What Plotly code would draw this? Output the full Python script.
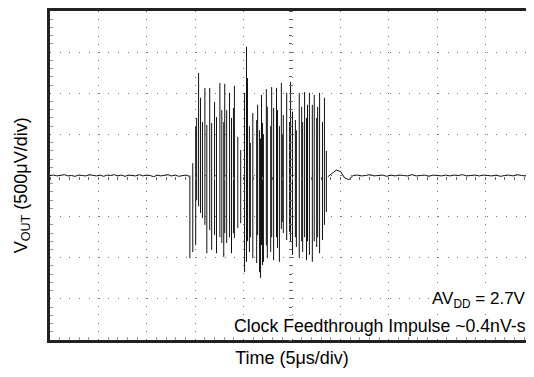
import numpy as np
import plotly.graph_objects as go

# -----------------------------------------------------------
# Scope trace (units: divisions)
# -----------------------------------------------------------
# quiet baseline before the burst
pre_v = [0.00, 0.01, -0.01, 0.01, 0.02, -0.01, 0.00, -0.02, 0.01, 0.00,
         -0.01, 0.02, 0.00, -0.01, 0.01, -0.02, 0.01, 0.00, 0.02, -0.01,
         0.01, -0.02, 0.01, 0.00, -0.01, 0.02, -0.01, 0.01, 0.00, -0.03,
         0.01, -0.01, 0.00, 0.02, -0.01, 0.01, -0.02, 0.00, 0.01, -0.02]
pre_t = np.linspace(0.0, 2.88, len(pre_v))

# ringing burst: each sweep shows up as a vertical stroke hi -> lo
spike_t = [2.89, 2.95, 3.01, 3.03, 3.07, 3.11, 3.15, 3.20, 3.24, 3.30,
           3.34, 3.40, 3.44, 3.51, 3.55, 3.59, 3.61, 3.65, 3.71, 3.75,
           3.79, 3.81, 3.88, 3.94, 4.02, 4.06, 4.08, 4.12, 4.14, 4.19,
           4.27, 4.29, 4.33, 4.35, 4.37, 4.39, 4.41, 4.47, 4.49, 4.56,
           4.58, 4.62, 4.68, 4.70, 4.74, 4.78, 4.80, 4.82, 4.89, 4.95,
           4.97, 5.01, 5.07, 5.09, 5.15, 5.20, 5.22, 5.26, 5.30, 5.32,
           5.36, 5.42, 5.46, 5.51, 5.53, 5.57, 5.63, 5.67, 5.71]
spike_hi = [0.00, 0.30, 1.18, 1.40, 2.49, 1.89, 1.30, 2.13, 1.23, 2.13,
            1.28, 1.79, 1.42, 2.25, 1.59, 1.30, 2.23, 1.59, 2.01, 1.40,
            1.64, 2.18, 0.94, 0.62, 2.01, 3.13, 2.37, 1.20, 0.79, 1.52,
            1.35, 1.72, 1.10, 0.90, 1.96, 1.28, 1.00, 2.10, 1.67, 1.20,
            2.15, 1.64, 2.13, 1.59, 1.20, 2.25, 1.00, 1.47, 2.01, 1.30,
            2.27, 1.55, 1.35, 1.10, 2.01, 1.67, 1.30, 2.03, 1.40, 1.72,
            2.01, 1.72, 1.96, 1.40, 1.67, 2.01, 1.30, 1.89, 0.60]
spike_lo = [-2.01, -1.86, -1.69, -0.60, -0.75, -0.91, -1.03, -1.20, -1.89, -1.33,
            -1.81, -1.45, -1.89, -1.50, -1.64, -1.98, -1.40, -1.64, -1.50, -1.89,
            -1.40, -1.52, -1.28, -1.16, -2.35, -2.10, -1.60, -1.86, -1.50, -2.01,
            -2.13, -1.45, -2.35, -2.49, -1.69, -2.18, -2.10, -1.70, -2.01, -1.86,
            -1.50, -2.06, -1.50, -1.76, -2.10, -1.30, -1.13, -1.40, -1.57, -1.37,
            -1.60, -1.93, -1.50, -1.74, -2.01, -1.60, -1.86, -1.50, -2.06, -1.60,
            -1.93, -2.10, -1.60, -1.74, -1.50, -1.89, -1.57, -1.20, -0.89]

# settling after the burst
post_v = [-0.03, 0.06, 0.13, 0.10, -0.06, -0.10, 0.00, 0.01, -0.01, 0.00,
          0.02, -0.01, 0.00, 0.01, -0.02, 0.01, -0.01, 0.01, 0.00, -0.01,
          0.02, -0.01, 0.00, 0.01, -0.02, 0.01, 0.00, -0.01, 0.01, -0.01,
          0.01, 0.00, 0.02, -0.01, 0.00, 0.01, -0.01, 0.01, 0.00, -0.01,
          0.01, -0.02, 0.00, 0.01, -0.01, 0.02, 0.00, -0.01, 0.01, 0.00]
post_t = np.linspace(5.74, 10.0, len(post_v))

# stitch into one sweep; burst strokes drawn as separate verticals
t = list(pre_t) + [None]
v = list(pre_v) + [None]
for ti, hi, lo in zip(spike_t, spike_hi, spike_lo):
    t += [ti, ti, None]
    v += [hi, lo, None]
t += list(post_t)
v += post_v

# -----------------------------------------------------------
# Figure (page body adds an 8px margin, so the figure is a bit smaller)
# -----------------------------------------------------------
FONT = "Liberation Sans, Arial, sans-serif"

fig = go.Figure()
fig.add_trace(go.Scatter(x=t, y=v, mode="lines", connectgaps=False,
                         line=dict(color="#111", width=1),
                         showlegend=False, hoverinfo="skip"))
# empty trace so the centre crosshair axes get drawn
fig.add_trace(go.Scatter(x=[], y=[], xaxis="x2", yaxis="y2", showlegend=False))

fig.update_layout(
    width=526, height=369,
    margin=dict(l=42, r=0, t=3, b=37),
    paper_bgcolor="white", plot_bgcolor="white",
    font=dict(family=FONT, size=15, color="black"),
    xaxis=dict(range=[0, 10], dtick=1, showticklabels=False,
               showgrid=True, gridcolor="#777", gridwidth=1, griddash="1px,7.2px",
               zeroline=False, showline=True, linecolor="#222", linewidth=3,
               mirror=True, ticks="inside", ticklen=0, automargin=False,
               minor=dict(dtick=0.2, ticks="inside", ticklen=3, tickcolor="#999"),
               title=dict(text="Time (5μs/div)", standoff=10)),
    yaxis=dict(range=[-4, 4], dtick=1, showticklabels=False,
               showgrid=True, gridcolor="#777", gridwidth=1, griddash="1px,8.7px",
               zeroline=False, showline=True, linecolor="#222", linewidth=3,
               ticks="inside", ticklen=0, automargin=False,
               minor=dict(dtick=0.2, ticks="inside", ticklen=3, tickcolor="#999")),
    xaxis2=dict(overlaying="x", matches="x", anchor="free", position=0.5,
                showticklabels=False, showgrid=False, zeroline=False,
                showline=False, ticks="outside", ticklen=3, dtick=0.2,
                tickcolor="#666"),
    yaxis2=dict(overlaying="y", matches="y", anchor="free", position=0.5,
                showticklabels=False, showgrid=False, zeroline=False,
                showline=False, ticks="outside", ticklen=3, dtick=0.2,
                tickcolor="#666"),
)

# y title as an annotation so it can sit a little below centre
fig.add_annotation(x=-0.058, y=0.47, xref="paper", yref="paper",
                   xanchor="center", yanchor="middle", showarrow=False,
                   textangle=-90, text="V<sub>OUT</sub> (500μV/div)",
                   font=dict(size=18))

fig.add_annotation(x=0.986, y=0.122, xref="paper", yref="paper",
                   xanchor="right", yanchor="middle", showarrow=False,
                   text="AV<sub>DD</sub> = 2.7V", bgcolor="white",
                   font=dict(size=17), borderpad=0)
fig.add_annotation(x=0.986, y=0.043, xref="paper", yref="paper",
                   xanchor="right", yanchor="middle", showarrow=False,
                   text="Clock Feedthrough Impulse ~0.4nV-s", bgcolor="white",
                   font=dict(size=17.7), borderpad=0)

fig.write_html("out.html")
